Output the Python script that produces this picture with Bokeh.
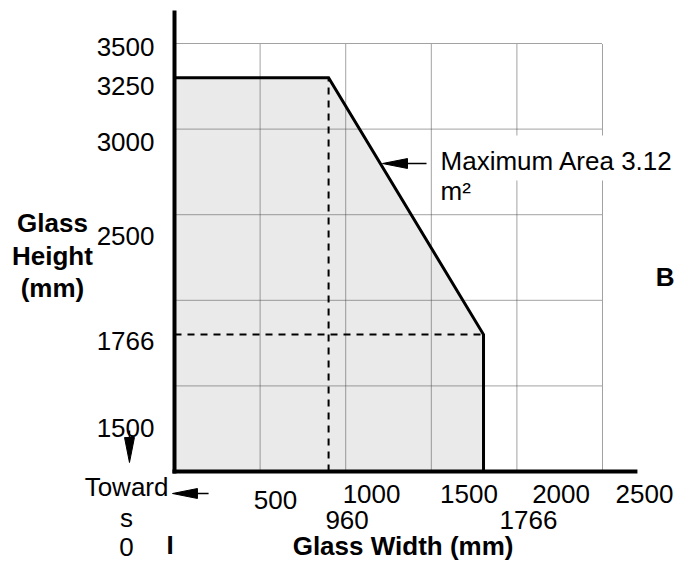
from bokeh.plotting import figure
from bokeh.models import Range1d
from bokeh.embed import file_html
from bokeh.resources import INLINE
from bokeh.core.properties import value

# ---------------- data (mm) ----------------
grid_w = [500, 1000, 1500, 2000, 2500]            # vertical grid lines (width)
grid_h = [1500, 2000, 2500, 3000, 3500]           # horizontal grid lines (height)
axis_w0, axis_h0 = 0, 1000                        # axis origin of the drawing
env_w = [0, 0, 900, 1805, 1805]                   # size envelope, width (as drawn)
env_h = [1000, 3300, 3300, 1800, 1000]            # size envelope, height (as drawn)
width_tick_labels = ["500", "1000", "1500", "2000", "2500"]
width_mark_labels = ["960", "1766"]
height_tick_labels = ["3500", "3250", "3000", "2500", "1766", "1500"]
area_label = ["Maximum Area 3.12", "m\u00b2"]
height_title = ["Glass", "Height", "(mm)"]
toward_label = ["Toward", "s", "0"]

# ---------------- layout (positions in mm of the drawing) ----------------
wt_x = [590, 1151, 1720, 2258]
wt_y = [836, 869, 869, 869]
wm_x = [1008, 2068]
ht_y = [3482, 3249, 2922, 2373, 1765, 1257]

FONT = value("Liberation Sans")

p = figure(width=675, height=562, output_backend="svg", toolbar_location=None,
           x_range=Range1d(-1016.4, 2926.4), y_range=Range1d(468.5, 3751.2),
           x_axis_location=None, y_axis_location=None,
           min_border=0, min_border_left=0, min_border_right=0,
           min_border_top=0, min_border_bottom=0)
p.grid.visible = False
p.outline_line_color = None
p.background_fill_color = "white"

# shaded permissible area
p.patch(env_w, env_h, fill_color="#eaeaea", line_color=None)

# dotted grid
p.segment(x0=grid_w, y0=[axis_h0] * 5, x1=grid_w, y1=[max(grid_h)] * 5,
          line_color="#454545", line_width=1, line_dash="1 1")
p.segment(x0=[axis_w0] * 5, y0=grid_h, x1=[max(grid_w)] * 5, y1=grid_h,
          line_color="#454545", line_width=1, line_dash="1 1")

# dashed guides
p.segment(x0=[env_w[2], axis_w0], y0=[axis_h0, env_h[3]],
          x1=[env_w[2], env_w[3]], y1=[env_h[2], env_h[3]],
          line_color="black", line_width=2, line_dash="7 6")

# envelope outline
p.line(env_w[1:], env_h[1:], line_color="black", line_width=3, line_join="miter")

# axes
p.segment(x0=[axis_w0, -12], y0=[axis_h0 - 12, axis_h0],
          x1=[axis_w0, 2704], y1=[3693, axis_h0],
          line_color="black", line_width=4)

# white label box
p.quad(left=[1507], right=[2558], bottom=[2700], top=[2963],
       fill_color="white", line_color=None)

# arrows (shaft + head)
p.segment(x0=[134, -263, 1361], y0=[871.5, 1239, 2799],
          x1=[199, -263, 1472], y1=[871.5, 1190, 2799],
          line_color="black", line_width=1.5)
p.patches(xs=[[-11.7, 134, 134], [-263, -292, -234], [1215, 1361, 1361]],
          ys=[[871.5, 900.5, 842.5], [1052.6, 1198.6, 1198.6], [2799, 2828, 2770]],
          fill_color="black", line_color="black", line_width=1)

# texts
p.text(x=wt_x, y=wt_y, text=width_tick_labels[:4], text_font=FONT,
       text_font_size="26px", text_align="center", text_baseline="middle")
p.text(x=[2914], y=[869], text=width_tick_labels[4:], text_font=FONT,
       text_font_size="26px", text_align="right", text_baseline="middle")
p.text(x=wm_x, y=[714, 714], text=width_mark_labels, text_font=FONT,
       text_font_size="26px", text_align="center", text_baseline="middle")
p.text(x=[-117] * 6, y=ht_y, text=height_tick_labels, text_font=FONT,
       text_font_size="26px", text_align="right", text_baseline="middle")
p.text(x=[-713] * 3, y=[2449, 2256, 2069], text=height_title, text_font=FONT,
       text_font_size="26px", text_font_style="bold", text_align="center",
       text_baseline="middle")
p.text(x=[1335], y=[562], text=["Glass Width (mm)"], text_font=FONT,
       text_font_size="26px", text_font_style="bold", text_align="center",
       text_baseline="middle")
p.text(x=[-280] * 3, y=[912, 726, 560], text=toward_label, text_font=FONT,
       text_font_size="26px", text_align="center", text_baseline="middle")
p.text(x=[1554, 1554], y=[2811, 2636], text=area_label, text_font=FONT,
       text_font_size="26px", text_align="left", text_baseline="middle")
p.text(x=[2920], y=[2136], text=["B"], text_font=FONT,
       text_font_size="26px", text_font_style="bold", text_align="right",
       text_baseline="middle")
p.text(x=[-26], y=[568], text=["I"], text_font=FONT,
       text_font_size="26px", text_font_style="bold", text_align="center",
       text_baseline="middle")

open("out.html", "w").write(file_html(p, INLINE))
